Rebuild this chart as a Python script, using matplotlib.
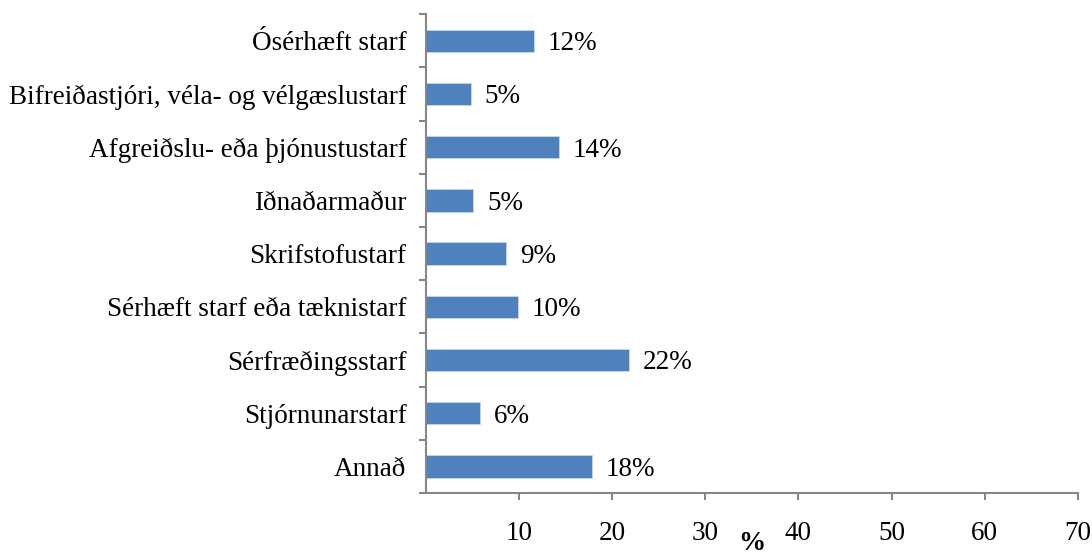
import matplotlib.pyplot as plt

plt.rcParams['font.family'] = ['Liberation Serif', 'DejaVu Serif']

# starfsflokkar, neðst fyrst
categories = ['Annað', 'Stjórnunarstarf', 'Sérfræðingsstarf', 'Sérhæft starf eða tæknistarf',
              'Skrifstofustarf', 'Iðnaðarmaður', 'Afgreiðslu- eða þjónustustarf',
              'Bifreiðastjóri, véla- og vélgæslustarf', 'Ósérhæft starf']
values = [17.8, 5.8, 21.8, 9.9, 8.6, 5.1, 14.3, 4.8, 11.6]
xticks = [10, 20, 30, 40, 50, 60, 70]

FS = 19.5

fig = plt.figure(figsize=(10.92, 5.53), dpi=100)
ax = fig.add_axes([0.390, 0.1085, 0.597, 0.866])

y = list(range(len(categories)))
ax.barh(y, values, height=0.42, color='#4F81BD', edgecolor='#C9D7EA', linewidth=0.6)
for yi, v in zip(y, values):
    ax.annotate(f'{v:.0f}%', (v, yi), xytext=(10, 0), textcoords='offset points',
                ha='left', va='center_baseline', fontsize=FS)

ax.set_xlim(0, 70)
ax.set_ylim(-0.5, len(categories) - 0.5)
ax.set_xticks(xticks)
ax.set_xticklabels([str(t) for t in xticks], fontsize=FS)
ax.set_yticks([i - 0.5 for i in range(len(categories) + 1)], minor=False)
ax.set_yticklabels([])
ax.set_yticks(y, minor=True)
ax.set_yticklabels(categories, minor=True, fontsize=FS)

gray = '#868686'
for s in ['top', 'right']:
    ax.spines[s].set_visible(False)
for s in ['left', 'bottom']:
    ax.spines[s].set_color(gray)
    ax.spines[s].set_linewidth(1.5)
ax.tick_params(axis='x', direction='out', length=5, width=1.5, color=gray, pad=15)
ax.tick_params(axis='y', which='major', direction='out', length=5, width=1.5, color=gray)
ax.tick_params(axis='y', which='minor', length=0, pad=14)

ax.set_xlabel('%', fontsize=FS, fontweight='bold')
ax.xaxis.set_label_coords(0.5, -0.080)

fig.savefig('out.png', dpi=100)
